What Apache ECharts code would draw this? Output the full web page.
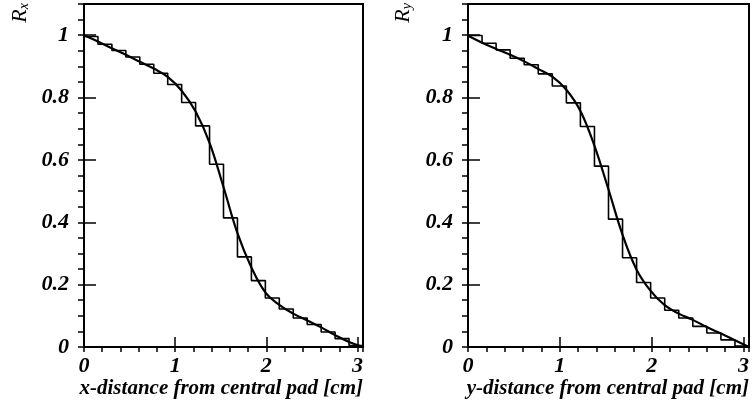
<!DOCTYPE html>
<html>
<head>
<meta charset="utf-8">
<script src="https://cdn.jsdelivr.net/npm/echarts@6/dist/echarts.min.js"></script>
<style>
html,body{margin:0;padding:0;background:#fff;}
#c{width:752px;height:412px;}
</style>
</head>
<body>
<div id="c"></div>
<script>
// Bin edges (cm) shared by both histograms
var binEdges = [0, 0.153, 0.306, 0.459, 0.612, 0.765, 0.918, 1.071, 1.224, 1.377, 1.53,
                1.683, 1.836, 1.989, 2.142, 2.295, 2.448, 2.601, 2.754, 2.907, 3.06];
// Histogram contents R_x and R_y
var histRx = [0.996, 0.971, 0.951, 0.930, 0.907, 0.878, 0.842, 0.784, 0.709, 0.586,
              0.414, 0.289, 0.213, 0.157, 0.122, 0.093, 0.072, 0.048, 0.027, 0.005];
var histRy = [0.999, 0.974, 0.953, 0.926, 0.905, 0.876, 0.837, 0.783, 0.707, 0.580,
              0.410, 0.286, 0.207, 0.157, 0.118, 0.093, 0.066, 0.045, 0.023, 0.003];
// Fitted curves
var fitX  = [0, 0.153, 0.306, 0.459, 0.612, 0.765, 0.918, 1.071, 1.224, 1.377, 1.53,
             1.683, 1.836, 1.989, 2.142, 2.295, 2.448, 2.601, 2.754, 2.907, 3.06];
var fitRx = [1.0, 0.98, 0.958, 0.937, 0.915, 0.893, 0.866, 0.822, 0.755, 0.655, 0.513,
             0.365, 0.255, 0.175, 0.135, 0.107, 0.085, 0.063, 0.038, 0.016, 0.0];
var fitRy = [0.998, 0.976, 0.956, 0.937, 0.916, 0.892, 0.867, 0.825, 0.757, 0.645, 0.505,
             0.36, 0.248, 0.18, 0.134, 0.107, 0.087, 0.064, 0.043, 0.022, 0.0];
var xTickLabels = ['0', '1', '2', '3'];
var yTickLabels = ['0', '0.2', '0.4', '0.6', '0.8', '1'];
var xTitles = ['x-distance from central pad [cm]', 'y-distance from central pad [cm]'];
var yTitles = ['x', 'y'];

var FONT = 'Liberation Serif';
var chart = echarts.init(document.getElementById('c'), null, {renderer: 'canvas'});

function histData(vals) {
  return binEdges.map(function (e, i) { return [e, vals[Math.min(i, vals.length - 1)]]; });
}
function fitData(vals) {
  return fitX.map(function (x, i) { return [x, vals[i]]; });
}
function fmtX(v) {
  var r = Math.round(v);
  return Math.abs(v - r) < 1e-6 && r >= 0 && r < xTickLabels.length ? xTickLabels[r] : '';
}
function fmtY(v) {
  var k = Math.round(v / 0.2);
  return Math.abs(v - k * 0.2) < 1e-6 && k >= 0 && k < yTickLabels.length ? yTickLabels[k] : '';
}

var grids = [
  {left: 84, top: 4, width: 279, height: 343},
  {left: 468, top: 4, width: 281, height: 343}
];
var xAxes = [], yAxes = [], series = [];
grids.forEach(function (g, gi) {
  g.show = true; g.borderColor = '#000'; g.borderWidth = 2; g.backgroundColor = 'transparent';
  xAxes.push({
    type: 'value', gridIndex: gi, min: 0, max: 3.06, interval: 1,
    axisLine: {show: true, onZero: false, lineStyle: {color: '#000', width: 2}},
    axisTick: {show: true, inside: true, length: 10, lineStyle: {color: '#000', width: 1.5}},
    axisLabel: {show: true, showMaxLabel: false, formatter: fmtX, margin: 8,
      fontFamily: FONT, fontStyle: 'italic', fontWeight: 'bold', fontSize: 22, color: '#000'},
    splitLine: {show: false},
    name: xTitles[gi], nameLocation: 'end', nameGap: 0,
    nameTextStyle: {fontFamily: FONT, fontStyle: 'italic', fontWeight: 'bold', fontSize: 21, color: '#000',
      align: 'right', verticalAlign: 'top', padding: [31, 0, 0, 0]}
  });
  xAxes.push({
    type: 'value', gridIndex: gi, min: 0, max: 3.06, interval: 0.2,
    axisLine: {show: false},
    axisTick: {show: true, inside: true, length: 5, lineStyle: {color: '#000', width: 1.5}},
    axisLabel: {show: false}, splitLine: {show: false}
  });
  yAxes.push({
    type: 'value', gridIndex: gi, min: 0, max: 1.1, interval: 0.2,
    axisLine: {show: true, onZero: false, lineStyle: {color: '#000', width: 2}},
    axisTick: {show: true, inside: true, length: 12, lineStyle: {color: '#000', width: 1.5}},
    axisLabel: {show: true, showMaxLabel: false, formatter: fmtY, margin: 15,
      fontFamily: FONT, fontStyle: 'italic', fontWeight: 'bold', fontSize: 22, color: '#000'},
    splitLine: {show: false}
  });
  yAxes.push({
    type: 'value', gridIndex: gi, min: 0, max: 1.1, interval: 0.05,
    axisLine: {show: false},
    axisTick: {show: true, inside: true, length: 6, lineStyle: {color: '#000', width: 1.5}},
    axisLabel: {show: false}, splitLine: {show: false}
  });
  var hv = gi === 0 ? histRx : histRy;
  var fv = gi === 0 ? fitRx : fitRy;
  series.push({
    type: 'line', xAxisIndex: gi * 2, yAxisIndex: gi * 2, step: 'end',
    data: histData(hv), symbol: 'none', silent: true,
    lineStyle: {color: '#000', width: 1.6}
  });
  series.push({
    type: 'line', xAxisIndex: gi * 2, yAxisIndex: gi * 2, smooth: 0.4,
    data: fitData(fv), symbol: 'none', silent: true,
    lineStyle: {color: '#000', width: 2.2}
  });
});

chart.setOption({
  animation: false,
  backgroundColor: '#fff',
  grid: grids,
  xAxis: xAxes,
  yAxis: yAxes,
  series: series,
  graphic: [0, 1].map(function (gi) {
    return {
      type: 'text', x: gi === 0 ? 20 : 403, y: 3, rotation: Math.PI / 2,
      style: {
        text: 'R{s|' + yTitles[gi] + '}', align: 'right', verticalAlign: 'middle',
        font: 'italic 22px "Liberation Serif"', fill: '#000',
        rich: {s: {fontFamily: FONT, fontStyle: 'italic', fontSize: 14, verticalAlign: 'bottom', padding: [9, 0, 0, 0]}}
      }
    };
  })
});
</script>
</body>
</html>
